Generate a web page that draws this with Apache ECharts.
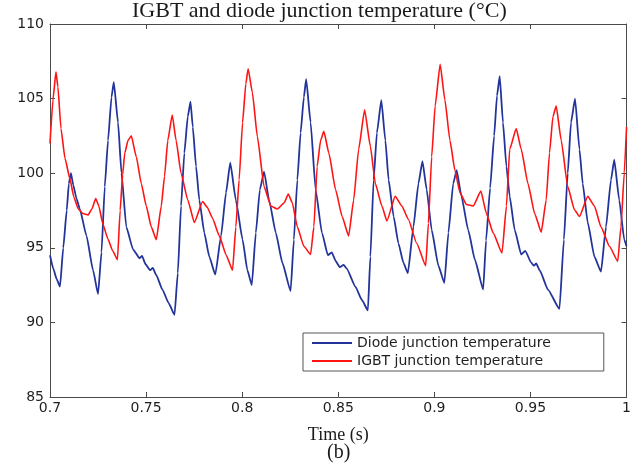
<!DOCTYPE html>
<html>
<head>
<meta charset="utf-8">
<script src="https://cdn.jsdelivr.net/npm/echarts@6/dist/echarts.min.js"></script>
<style>html,body{margin:0;padding:0;background:#fff;}#c{width:634px;height:469px;}</style>
</head>
<body>
<div id="c"></div>
<script>
var titleText = 'IGBT and diode junction temperature (°C)';
var xAxisName = 'Time (s)';
var subLabel = '(b)';
var seriesNames = ['Diode junction temperature', 'IGBT junction temperature'];
var xTickLabels = ['0.7', '0.75', '0.8', '0.85', '0.9', '0.95', '1'];
var yTickLabels = ['85', '90', '95', '100', '105', '110'];

var diodeTime = [
  0.7000, 0.7017, 0.7035, 0.7052, 0.7069, 0.7087, 0.7098, 0.7109, 0.7121, 0.7138,
  0.7155, 0.7190, 0.7224, 0.7250, 0.7268, 0.7285, 0.7302, 0.7320, 0.7332, 0.7354,
  0.7372, 0.7397, 0.7432, 0.7466, 0.7479, 0.7497, 0.7521, 0.7535, 0.7552, 0.7585,
  0.7617, 0.7648, 0.7665, 0.7682, 0.7699, 0.7717, 0.7731, 0.7743, 0.7760, 0.7777,
  0.7803, 0.7829, 0.7860, 0.7890, 0.7916, 0.7938, 0.7967, 0.8002, 0.8027, 0.8050,
  0.8071, 0.8092, 0.8114, 0.8140, 0.8175, 0.8209, 0.8252, 0.8269, 0.8287, 0.8304,
  0.8321, 0.8333, 0.8356, 0.8382, 0.8415, 0.8446, 0.8466, 0.8487, 0.8508, 0.8528,
  0.8544, 0.8589, 0.8623, 0.8654, 0.8667, 0.8684, 0.8701, 0.8724, 0.8745, 0.8762,
  0.8788, 0.8813, 0.8839, 0.8862, 0.8891, 0.8917, 0.8938, 0.8960, 0.8986, 0.9021,
  0.9052, 0.9073, 0.9098, 0.9116, 0.9141, 0.9176, 0.9211, 0.9254, 0.9269, 0.9290,
  0.9311, 0.9326, 0.9340, 0.9357, 0.9375, 0.9392, 0.9418, 0.9452, 0.9473, 0.9504,
  0.9518, 0.9530, 0.9548, 0.9591, 0.9651, 0.9674, 0.9694, 0.9711, 0.9732, 0.9755,
  0.9772, 0.9798, 0.9833, 0.9867, 0.9893, 0.9919, 0.9936, 0.9962, 0.9988, 1.0000
];
var diodeTemp = [
  94.5, 93.6, 92.9, 92.4, 95.0, 97.5, 99.3, 100.0, 99.2, 98.3,
  97.6, 95.8, 93.5, 91.9, 94.7, 99.1, 102.2, 105.1, 106.1, 103.4,
  100.0, 96.4, 94.9, 94.3, 94.45, 93.9, 93.5, 93.65, 93.2, 92.2,
  91.3, 90.5, 93.3, 97.8, 101.35, 103.8, 104.8, 103.1, 100.45, 98.2,
  96.0, 94.4, 93.2, 95.8, 98.7, 100.7, 98.2, 95.55, 93.5, 92.5,
  96.0, 98.9, 100.1, 98.2, 96.0, 94.0, 92.1, 95.55, 99.55, 102.7,
  105.1, 106.3, 103.4, 98.9, 96.0, 94.5, 94.7, 94.1, 93.7, 93.85,
  93.6, 92.4, 91.5, 90.8, 94.4, 99.55, 102.7, 104.9, 102.2, 99.55,
  97.1, 95.3, 94.0, 93.3, 96.4, 99.3, 100.8, 98.9, 96.2, 93.8,
  92.65, 96.0, 99.3, 100.2, 98.45, 96.2, 94.2, 92.2, 95.5, 99.0,
  102.5, 105.2, 106.5, 103.4, 100.45, 98.45, 96.2, 94.55, 94.8, 94.0,
  93.8, 93.95, 93.5, 92.2, 90.9, 95.55, 100.0, 103.4, 105.0, 101.6,
  99.3, 96.7, 94.4, 93.4, 96.4, 99.55, 100.9, 98.2, 95.55, 95.1
];

var igbtTime = [
  0.7000, 0.7016, 0.7031, 0.7041, 0.7057, 0.7078, 0.7104, 0.7124, 0.7147, 0.7171,
  0.7198, 0.7218, 0.7238, 0.7254, 0.7275, 0.7301, 0.7326, 0.7351, 0.7365, 0.7378,
  0.7389, 0.7406, 0.7423, 0.7449, 0.7475, 0.7501, 0.7527, 0.7553, 0.7579, 0.7596,
  0.7613, 0.7636, 0.7656, 0.7682, 0.7717, 0.7751, 0.7794, 0.7819, 0.7845, 0.7881,
  0.7917, 0.7950, 0.7967, 0.7984, 0.8002, 0.8019, 0.8031, 0.8053, 0.8079, 0.8114,
  0.8149, 0.8183, 0.8218, 0.8240, 0.8261, 0.8287, 0.8321, 0.8356, 0.8373, 0.8390,
  0.8408, 0.8425, 0.8451, 0.8486, 0.8520, 0.8554, 0.8580, 0.8606, 0.8637, 0.8667,
  0.8693, 0.8727, 0.8753, 0.8796, 0.8831, 0.8865, 0.8908, 0.8955, 0.8969, 0.8986,
  0.9004, 0.9030, 0.9055, 0.9081, 0.9107, 0.9133, 0.9167, 0.9202, 0.9242, 0.9271,
  0.9306, 0.9352, 0.9375, 0.9392, 0.9426, 0.9452, 0.9487, 0.9522, 0.9556, 0.9582,
  0.9599, 0.9617, 0.9634, 0.9660, 0.9694, 0.9729, 0.9755, 0.9798, 0.9833, 0.9867,
  0.9911, 0.9954, 0.9971, 0.9988, 1.0000
];
var igbtTemp = [
  102.0, 105.0, 106.8, 105.8, 103.0, 101.0, 99.6, 98.4, 97.6, 97.3,
  97.2, 97.6, 98.3, 97.8, 96.6, 95.6, 94.8, 94.2, 97.5, 99.9,
  101.35, 102.2, 102.5, 101.1, 99.3, 97.8, 96.4, 95.55, 97.8, 99.8,
  102.2, 103.9, 102.2, 100.0, 98.2, 96.7, 98.1, 97.7, 97.0, 95.8,
  94.5, 93.5, 96.4, 99.55, 103.4, 106.0, 107.0, 105.4, 102.45, 99.1,
  97.8, 97.6, 98.0, 98.6, 98.0, 96.4, 95.1, 94.55, 96.4, 100.45,
  102.2, 102.8, 101.35, 98.9, 97.1, 95.8, 98.2, 101.6, 104.25, 101.8,
  99.3, 97.8, 96.8, 98.45, 97.8, 96.9, 95.3, 93.8, 96.65, 101.1,
  104.5, 107.3, 104.9, 102.2, 100.2, 98.7, 97.9, 97.8, 98.8, 97.3,
  96.0, 94.65, 97.8, 101.6, 103.0, 101.6, 99.3, 97.3, 96.05, 98.2,
  101.35, 103.8, 104.5, 102.2, 99.1, 97.55, 97.1, 98.45, 97.8, 96.4,
  95.1, 94.1, 96.4, 100.0, 103.1
];

function zip(a, b) { var r = []; for (var i = 0; i < a.length; i++) r.push([a[i], b[i]]); return r; }

var axisColor = '#4a4a4a';
var labelColor = '#1e1e1e';
var tickFont = 'DejaVu Sans';
var blue = '#22349a';
var red = '#ff1414';
var lineIcon = 'path://M0,0L40,0L40,2L0,2Z';

function xLabel(v) { var i = Math.round((v - 0.7) / 0.05); return xTickLabels[i] !== undefined ? xTickLabels[i] : ''; }
function yLabel(v) { var i = Math.round((v - 85) / 5); return yTickLabels[i] !== undefined ? yTickLabels[i] : ''; }

var baseX = { type: 'value', min: 0.7, max: 1, interval: 0.05,
  axisLine: { show: true, onZero: false, lineStyle: { color: axisColor, width: 1 } },
  axisTick: { show: true, inside: true, length: 5, lineStyle: { color: axisColor } },
  splitLine: { show: false } };
var baseY = { type: 'value', min: 85, max: 110, interval: 5,
  axisLine: { show: true, onZero: false, lineStyle: { color: axisColor, width: 1 } },
  axisTick: { show: true, inside: true, length: 5, lineStyle: { color: axisColor } },
  splitLine: { show: false } };

var chart = echarts.init(document.getElementById('c'), null, { renderer: 'canvas' });
chart.setOption({
  animation: false,
  backgroundColor: '#fff',
  title: [
    { text: titleText, left: 132, top: 0, padding: 0,
      textStyle: { fontFamily: 'Liberation Serif', fontSize: 22, fontWeight: 'normal', color: '#1a1a1a' } },
    { text: subLabel, left: 327, top: 443, padding: 0,
      textStyle: { fontFamily: 'Liberation Serif', fontSize: 20, fontWeight: 'normal', color: '#1a1a1a' } }
  ],
  grid: { left: 50, right: 5, top: 24, bottom: 72, containLabel: false },
  xAxis: [
    Object.assign({}, baseX, { position: 'bottom',
      axisLabel: { show: true, margin: 4, color: labelColor, fontFamily: tickFont, fontSize: 14, formatter: xLabel },
      name: xAxisName, nameLocation: 'middle', nameGap: 29,
      nameTextStyle: { fontFamily: 'Liberation Serif', fontSize: 18, color: '#1a1a1a' } }),
    Object.assign({}, baseX, { position: 'top', axisLabel: { show: false } })
  ],
  yAxis: [
    Object.assign({}, baseY, { position: 'left',
      axisLabel: { show: true, margin: 6, color: labelColor, fontFamily: tickFont, fontSize: 14, formatter: yLabel } }),
    Object.assign({}, baseY, { position: 'right', axisLabel: { show: false } })
  ],
  legend: {
    orient: 'vertical', left: 303, top: 333,
    itemWidth: 40, itemHeight: 14, itemGap: 4,
    symbolKeepAspect: true,
    padding: [3, 53, 3, 9],
    borderColor: '#555', borderWidth: 1, backgroundColor: '#fff',
    textStyle: { fontFamily: tickFont, fontSize: 14, color: labelColor },
    data: [
      { name: seriesNames[0], icon: lineIcon, itemStyle: { color: blue } },
      { name: seriesNames[1], icon: lineIcon, itemStyle: { color: red } }
    ]
  },
  series: [
    { name: seriesNames[0], type: 'line', xAxisIndex: 0, yAxisIndex: 0,
      data: zip(diodeTime, diodeTemp), symbol: 'none', showSymbol: false,
      smooth: 0.15, smoothMonotone: 'x',
      lineStyle: { color: blue, width: 1.8 }, itemStyle: { color: blue } },
    { name: seriesNames[1], type: 'line', xAxisIndex: 0, yAxisIndex: 0,
      data: zip(igbtTime, igbtTemp), symbol: 'none', showSymbol: false,
      smooth: 0.15, smoothMonotone: 'x',
      lineStyle: { color: red, width: 1.6 }, itemStyle: { color: red } }
  ]
});
</script>
</body>
</html>
